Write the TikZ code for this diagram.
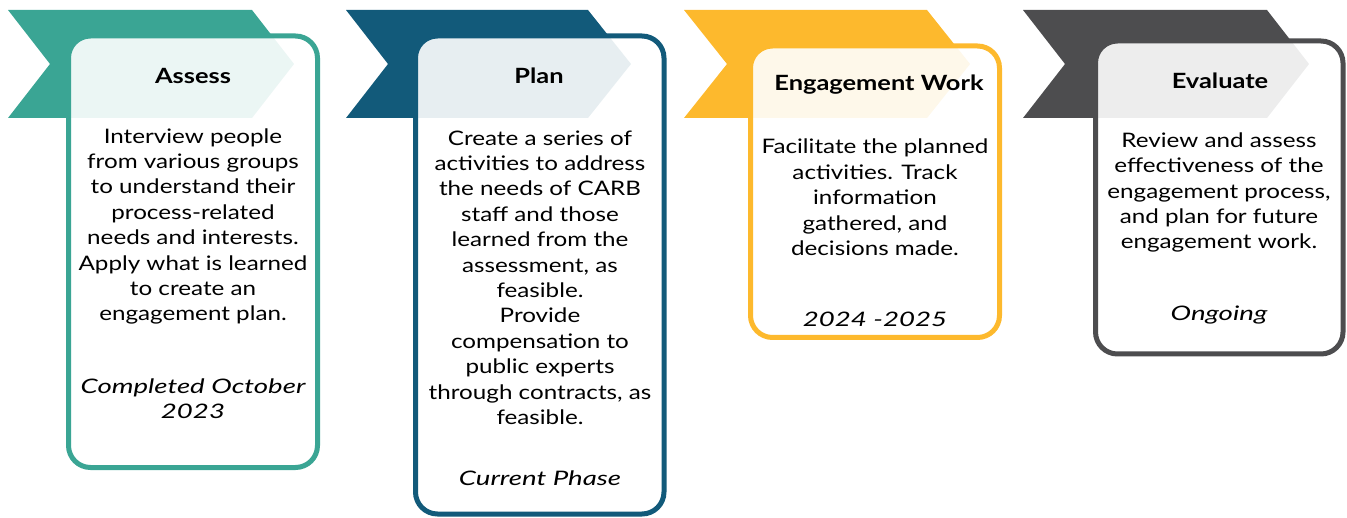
\documentclass[tikz,border=0pt]{standalone}
\usepackage{fontspec}
\setmainfont{Lato}[FakeStretch=1.21, ItalicFeatures={FakeStretch=1.38}]
\definecolor{assessteal}{RGB}{58,165,148}
\definecolor{planblue}{RGB}{18,90,122}
\definecolor{workgold}{RGB}{253,185,45}
\definecolor{evalgray}{RGB}{77,77,79}

\begin{document}
\begin{tikzpicture}[x=1pt,y=-1pt]
		\tikzset{PhaseBox/.style = {draw=#1, line width=5pt, fill=white, fill opacity=0.9, rounded corners=22pt},
			TitleStyle/.style = {font=\fontsize{21}{25}\selectfont\bfseries, inner sep=0pt},
			BodyStyle/.style = {align=center, font=\fontsize{20}{25.4}\selectfont, inner sep=0pt},
			DateStyle/.style = {BodyStyle, font=\fontsize{20}{25.4}\selectfont\itshape}}
		\useasboundingbox (0,0) rectangle (1347,518);
		% Assess
		\fill[assessteal] (8,10) -- (252,10) -- (294,64) -- (252,118) -- (8,118) -- (50,64) -- cycle;
		\draw[PhaseBox=assessteal] (68.5,36) rectangle (317.5,467.5);
		\node[TitleStyle] (assess) at (193,76) {Assess};
		\node[BodyStyle] (assessText) at (193,226.5) {Interview people\\from various groups\\to understand their\\process-related\\needs and interests.\\Apply what is learned\\to create an\\engagement plan.};
		\node[DateStyle] (assessDate) at (193,399) {Completed October\\2023};
		% Plan
		\fill[planblue] (346,10) -- (588,10) -- (631,64) -- (588,118) -- (346,118) -- (388,64) -- cycle;
		\draw[PhaseBox=planblue] (415.5,36) rectangle (664,514);
		\node[TitleStyle] (plan) at (539,76) {Plan};
		\node[BodyStyle] (planText) at (540,277.5) {Create a series of\\activities to address\\the needs of CARB\\staff and those\\learned from the\\assessment, as\\feasible.\\Provide\\compensation to\\public experts\\through contracts, as\\feasible.};
		\node[DateStyle] (planDate) at (540,478) {Current Phase};
		% Engagement Work
		\fill[workgold] (684,10) -- (927,10) -- (970,64) -- (927,118) -- (684,118) -- (727,64) -- cycle;
		\draw[PhaseBox=workgold] (750.5,46) rectangle (999.5,337.5);
		\node[TitleStyle] (work) at (879,85) {Engagement Work};
		\node[BodyStyle] (workText) at (875,197.5) {Facilitate the planned\\activities. Track\\information\\gathered, and\\decisions made.};
		\node[DateStyle] (workDate) at (875,319) {2024 -2025};
		% Evaluate
		\fill[evalgray] (1023,10) -- (1267,10) -- (1309,64) -- (1267,118) -- (1023,118) -- (1065,64) -- cycle;
		\draw[PhaseBox=evalgray] (1095.5,41) rectangle (1343,354);
		\node[TitleStyle] (evaluate) at (1220,81) {Evaluate};
		\node[BodyStyle] (evalText) at (1219,192.5) {Review and assess\\effectiveness of the\\engagement process,\\and plan for future\\engagement work.};
		\node[DateStyle] (evalDate) at (1219,315) {Ongoing};
\end{tikzpicture}
\end{document}
